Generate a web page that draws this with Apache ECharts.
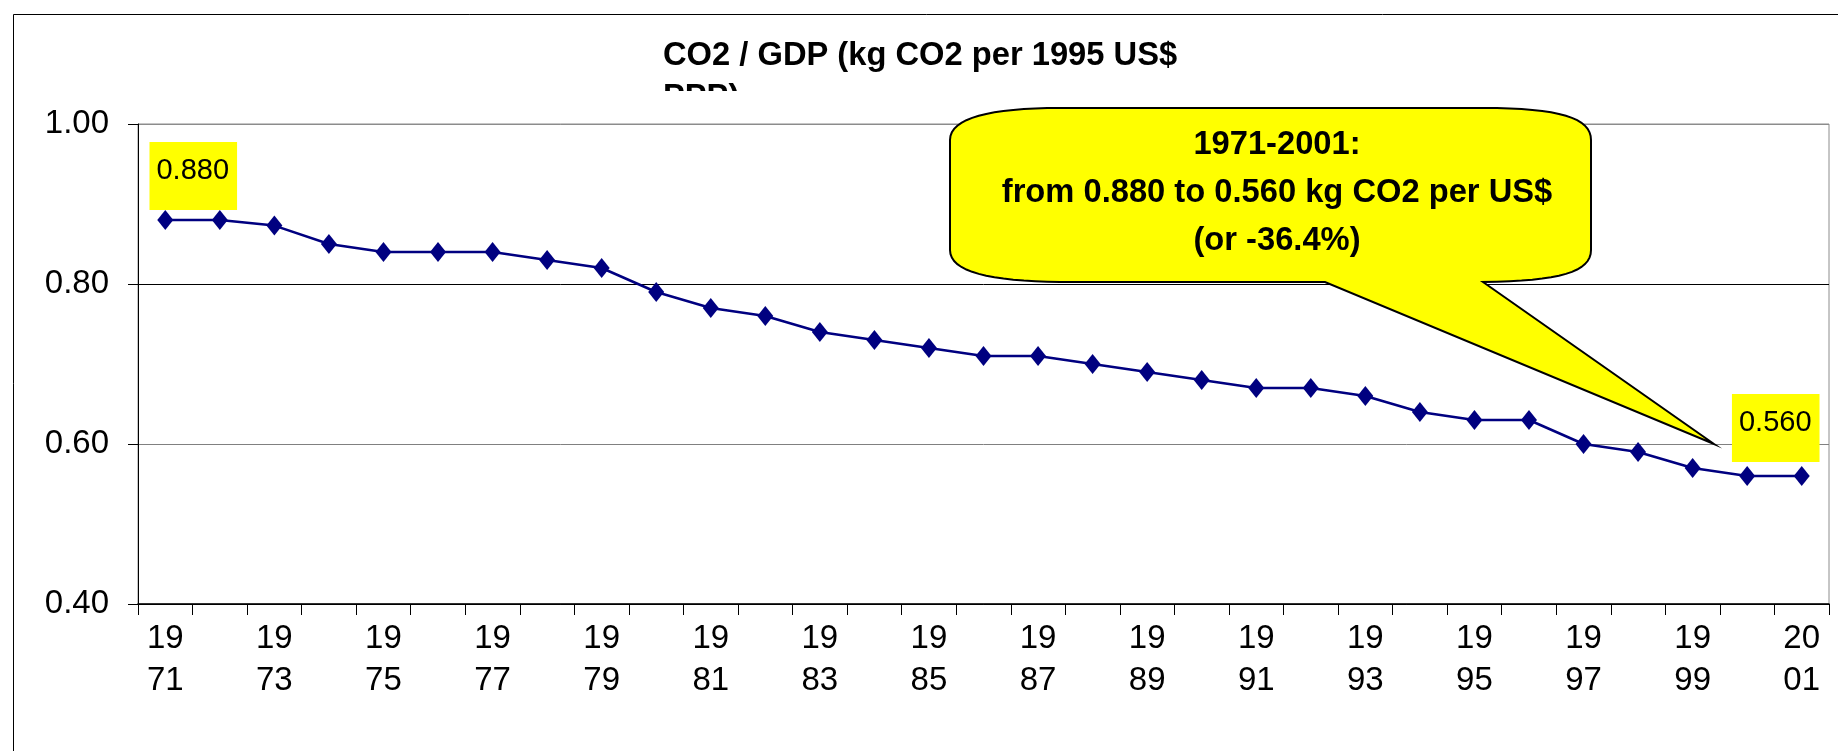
<!DOCTYPE html>
<html>
<head>
<meta charset="utf-8">
<title>CO2 / GDP</title>
<script src="https://cdn.jsdelivr.net/npm/echarts@6/dist/echarts.min.js"></script>
<style>
  html, body { margin: 0; padding: 0; background: #fff; }
  #chart { width: 1838px; height: 751px; }
</style>
</head>
<body>
<div id="chart"></div>
<script>
// data
const years = ['1971', '1972', '1973', '1974', '1975', '1976', '1977', '1978', '1979', '1980',
  '1981', '1982', '1983', '1984', '1985', '1986', '1987', '1988', '1989', '1990',
  '1991', '1992', '1993', '1994', '1995', '1996', '1997', '1998', '1999', '2000', '2001'];
const co2PerGdp = [0.88, 0.88, 0.873, 0.85, 0.84, 0.84, 0.84, 0.83, 0.82, 0.79,
  0.77, 0.76, 0.74, 0.73, 0.72, 0.71, 0.71, 0.70, 0.69, 0.68,
  0.67, 0.67, 0.66, 0.64, 0.63, 0.63, 0.60, 0.59, 0.57, 0.56, 0.56];
const yMin = 0.4;
const yMax = 1.0;
const yStep = 0.2;
const titleLines = ['CO2 / GDP (kg CO2 per 1995 US$', 'PPP)'];
const calloutLines = ['1971-2001:', 'from 0.880 to 0.560 kg CO2 per US$', '(or -36.4%)'];

const FONT = '"Liberation Sans", Arial, Helvetica, sans-serif';

const chart = echarts.init(document.getElementById('chart'));

// only first and last point carry a yellow value label
const lastIdx = co2PerGdp.length - 1;
const seriesData = co2PerGdp.map((v, i) => {
  if (i === 0) {
    return { value: v, label: { show: true, offset: [28, 0], distance: 0 } };
  }
  if (i === lastIdx) {
    return { value: v, label: { show: true, offset: [-26, 0], distance: 4 } };
  }
  return v;
});

// speech bubble outline, sampled from bezier corners (pixel space)
function cubic(p0, p1, p2, p3, n) {
  const pts = [];
  for (let k = 0; k <= n; k++) {
    const t = k / n, u = 1 - t;
    pts.push([
      u * u * u * p0[0] + 3 * u * u * t * p1[0] + 3 * u * t * t * p2[0] + t * t * t * p3[0],
      u * u * u * p0[1] + 3 * u * u * t * p1[1] + 3 * u * t * t * p2[1] + t * t * t * p3[1]
    ]);
  }
  return pts;
}
const bubblePoints = [].concat(
  cubic([950, 140], [950, 118], [990, 108], [1060, 108], 16),
  cubic([1483, 108], [1560, 108], [1591, 118], [1591, 140], 16),
  cubic([1591, 250], [1591, 272], [1560, 281], [1483, 282], 16),
  [[1714, 444], [1325, 282]],
  cubic([1060, 282], [990, 281], [950, 272], [950, 250], 16)
);

const option = {
  animation: false,
  backgroundColor: '#fff',
  grid: {
    left: 138,
    right: 9,
    top: 124,
    bottom: 147,
    show: true,
    borderColor: '#8c8c8c',
    borderWidth: 1
  },
  xAxis: {
    type: 'category',
    data: years,
    boundaryGap: true,
    axisLine: { lineStyle: { color: '#000', width: 1.5 } },
    axisTick: { show: true, interval: 0, length: 11, lineStyle: { color: '#000' } },
    axisLabel: {
      interval: 1,
      margin: 14,
      color: '#000',
      fontSize: 33,
      lineHeight: 42,
      fontFamily: FONT,
      formatter: (val) => val.slice(0, 2) + '\n' + val.slice(2)
    },
    splitLine: { show: false }
  },
  yAxis: {
    type: 'value',
    min: yMin,
    max: yMax,
    interval: yStep,
    axisLine: { show: true, lineStyle: { color: '#000', width: 1 } },
    axisTick: { show: true, length: 10, lineStyle: { color: '#000' } },
    axisLabel: {
      margin: 29,
      color: '#000',
      fontSize: 33,
      fontFamily: FONT,
      formatter: (v) => v.toFixed(2)
    },
    splitLine: {
      show: true,
      lineStyle: { color: ['#000', '#808080', '#000', '#8c8c8c'], width: 1 }
    }
  },
  series: [
    {
      type: 'line',
      data: seriesData,
      symbol: 'diamond',
      symbolSize: [16, 20],
      itemStyle: { color: '#000080' },
      lineStyle: { color: '#000080', width: 2.5 },
      label: {
        show: false,
        position: 'top',
        formatter: (p) => p.value.toFixed(3),
        color: '#000',
        backgroundColor: '#ffff00',
        fontSize: 29,
        lineHeight: 30,
        fontFamily: FONT,
        padding: [14, 8, 24, 7]
      }
    }
  ],
  graphic: [
    // chart area frame
    {
      type: 'rect',
      shape: { x: 13.5, y: 14.5, width: 2000, height: 1000 },
      style: { fill: null, stroke: '#000', lineWidth: 1 },
      silent: true
    },
    // title, the second line is cut off like in the original
    {
      type: 'text',
      style: {
        text: titleLines[0],
        x: 663, y: 56,
        verticalAlign: 'middle',
        fontSize: 32.7, fontWeight: 'bold', fontFamily: FONT, fill: '#000'
      }
    },
    {
      type: 'text',
      style: {
        text: titleLines[1],
        x: 663, y: 98,
        verticalAlign: 'middle',
        fontSize: 32.7, fontWeight: 'bold', fontFamily: FONT, fill: '#000'
      }
    },
    {
      type: 'rect',
      shape: { x: 640, y: 91, width: 280, height: 30 },
      style: { fill: '#fff' },
      silent: true
    },
    // callout bubble
    {
      type: 'polygon',
      z: 100,
      shape: { points: bubblePoints },
      style: { fill: '#ffff00', stroke: '#000', lineWidth: 2 }
    },
    {
      type: 'text',
      z: 101,
      style: {
        text: calloutLines.join('\n'),
        x: 1277, y: 193,
        align: 'center',
        verticalAlign: 'middle',
        fontSize: 32.7, fontWeight: 'bold', fontFamily: FONT,
        lineHeight: 48,
        fill: '#000'
      }
    }
  ]
};

chart.setOption(option);
</script>
</body>
</html>
